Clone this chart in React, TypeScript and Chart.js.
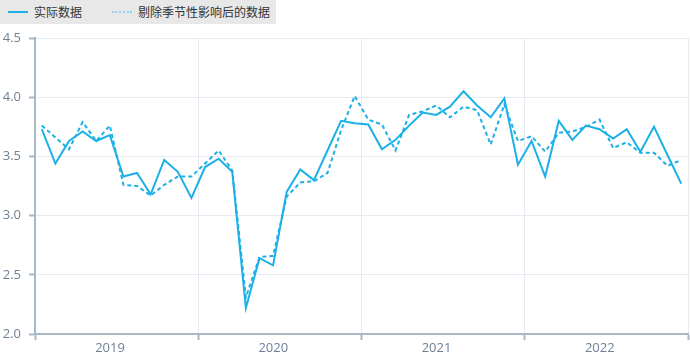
import React, { useEffect, useRef } from 'react';
import { Chart, registerables } from 'chart.js';

Chart.register(...registerables);

const years = ['2019', '2020', '2021', '2022'];
const legendLabels = ['实际数据', '剔除季节性影响后的数据'];
const yTicks = [2.0, 2.5, 3.0, 3.5, 4.0, 4.5];
const yearBounds = [0, 12, 24, 36, 48];

const actual = [
  3.73, 3.44, 3.63, 3.71, 3.63, 3.68, 3.33, 3.36, 3.18, 3.47, 3.37, 3.15,
  3.41, 3.48, 3.37, 2.22, 2.64, 2.58, 3.20, 3.39, 3.30, 3.55, 3.80, 3.78,
  3.77, 3.56, 3.64, 3.76, 3.87, 3.85, 3.92, 4.05, 3.93, 3.83, 3.99, 3.43,
  3.63, 3.33, 3.80, 3.64, 3.76, 3.73, 3.65, 3.73, 3.54, 3.75, 3.51, 3.27,
];

const adjusted = [
  3.76, 3.66, 3.56, 3.79, 3.63, 3.76, 3.26, 3.25, 3.17, 3.26, 3.33, 3.33,
  3.44, 3.55, 3.38, 2.31, 2.65, 2.66, 3.16, 3.28, 3.29, 3.36, 3.72, 4.01,
  3.81, 3.77, 3.55, 3.85, 3.88, 3.93, 3.83, 3.92, 3.89, 3.60, 3.94, 3.63,
  3.67, 3.54, 3.70, 3.71, 3.75, 3.81, 3.57, 3.62, 3.53, 3.53, 3.42, 3.47,
];

const LINE = '#1cb0e6';
const AXIS = '#a9b8c8';
const GRID = '#e6ebf2';
const TICK_TEXT = '#6f8197';
const FONT = { family: '"Open Sans", "Noto Sans", sans-serif', size: 13 };

export default function App() {
  const ref = useRef<HTMLCanvasElement>(null);

  useEffect(() => {
    document.body.style.margin = '0';
    const toPts = (arr: number[]) => arr.map((v, i) => ({ x: i + 0.5, y: v }));
    const chart = new Chart(ref.current as HTMLCanvasElement, {
      type: 'line',
      data: {
        datasets: [
          {
            label: legendLabels[0],
            data: toPts(actual),
            borderColor: LINE,
            borderWidth: 2,
            pointRadius: 0,
            tension: 0,
            fill: false,
          },
          {
            label: legendLabels[1],
            data: toPts(adjusted),
            borderColor: LINE,
            borderWidth: 2,
            borderDash: [4, 3],
            pointRadius: 0,
            tension: 0,
            fill: false,
          },
        ],
      },
      options: {
        animation: false,
        responsive: false,
        layout: { padding: { top: 38, right: 2, left: 0, bottom: 0 } },
        plugins: { legend: { display: false }, tooltip: { enabled: false } },
        scales: {
          x: {
            type: 'linear',
            min: 0,
            max: 48,
            afterBuildTicks: (s: any) => {
              s.ticks = yearBounds.map((v) => ({ value: v }));
            },
            afterFit: (s: any) => {
              s.height = 19;
            },
            grid: { color: GRID, lineWidth: 1, tickLength: 6, tickColor: AXIS, tickWidth: 2 },
            border: { color: AXIS, width: 2 },
            ticks: {
              autoSkip: false,
              maxRotation: 0,
              minRotation: 0,
              padding: 0,
              labelOffset: 75,
              color: TICK_TEXT,
              font: FONT,
              callback: (v: any) => years[Math.round(Number(v) / 12)] ?? '',
            },
          },
          y: {
            type: 'linear',
            min: 2,
            max: 4.5,
            afterBuildTicks: (s: any) => {
              s.ticks = yTicks.map((v) => ({ value: v }));
            },
            afterFit: (s: any) => {
              s.width = 35;
            },
            grid: { color: GRID, lineWidth: 1, tickLength: 6, tickColor: AXIS, tickWidth: 2 },
            border: { color: AXIS, width: 2 },
            ticks: {
              padding: 8,
              color: TICK_TEXT,
              font: FONT,
              callback: (v: any) => Number(v).toFixed(1),
            },
          },
        },
      },
    } as any);
    return () => chart.destroy();
  }, []);

  const itemStyle: React.CSSProperties = { display: 'flex', alignItems: 'center' };
  const textStyle: React.CSSProperties = {
    fontFamily: '"Noto Sans CJK SC", sans-serif',
    fontSize: 12,
    color: '#333',
    lineHeight: '24px',
  };

  return (
    <div style={{ position: 'relative', width: 690, height: 353 }}>
      <canvas ref={ref} width={690} height={353} style={{ display: 'block' }} />
      <div
        style={{
          position: 'absolute',
          left: 0,
          top: 0,
          width: 276,
          height: 24,
          background: '#e8e8e8',
          display: 'flex',
          alignItems: 'center',
        }}
      >
        <div style={{ ...itemStyle, marginLeft: 8 }}>
          <span style={{ display: 'inline-block', width: 20, borderTop: `2px solid ${LINE}`, marginRight: 6 }} />
          <span style={textStyle}>{legendLabels[0]}</span>
        </div>
        <div style={{ ...itemStyle, marginLeft: 30 }}>
          <span style={{ display: 'inline-block', width: 20, borderTop: `2px dotted #8fd3f0`, marginRight: 6 }} />
          <span style={textStyle}>{legendLabels[1]}</span>
        </div>
      </div>
    </div>
  );
}
